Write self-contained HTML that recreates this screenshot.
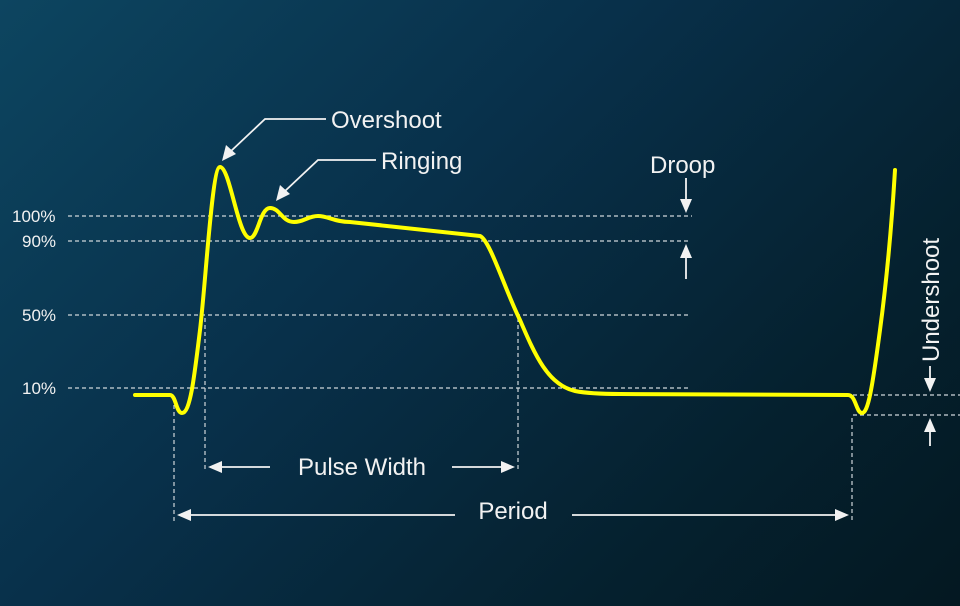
<!DOCTYPE html>
<html><head><style>
html,body{margin:0;padding:0}
body{width:960px;height:606px;overflow:hidden;background:linear-gradient(135deg,#0d4560 0%,#08304a 40%,#05212f 75%,#041821 100%);}
svg{display:block}
text{font-family:"Liberation Sans",sans-serif;fill:#f2f2f2}
</style></head><body>
<svg width="960" height="606" viewBox="0 0 960 606">
<defs>
<marker id="ah" viewBox="0 0 10 10" refX="9" refY="5" markerWidth="5" markerHeight="5" orient="auto-start-reverse" markerUnits="userSpaceOnUse" style="overflow:visible">
<path d="M0,0 L10,5 L0,10 z" fill="#f2f2f2" transform="scale(2)"/>
</marker>
</defs>
<g stroke="#cfd6da" stroke-width="1.2" stroke-dasharray="4,3" fill="none">
<line x1="68" y1="216" x2="692" y2="216"/>
<line x1="68" y1="241" x2="688" y2="241"/>
<line x1="68" y1="315" x2="688" y2="315"/>
<line x1="68" y1="388" x2="688" y2="388"/>
<line x1="853" y1="395" x2="960" y2="395"/>
<line x1="853" y1="415" x2="960" y2="415"/>
<line x1="174" y1="398" x2="174" y2="522"/>
<line x1="205" y1="318" x2="205" y2="472"/>
<line x1="518" y1="318" x2="518" y2="472"/>
<line x1="852" y1="418" x2="852" y2="522"/>
</g>
<g font-size="17">
<text x="12" y="222">100%</text>
<text x="22" y="247">90%</text>
<text x="22" y="321">50%</text>
<text x="22" y="394">10%</text>
</g>
<g stroke="#f2f2f2" stroke-width="1.8" fill="#f2f2f2">
<line x1="270" y1="467" x2="220" y2="467"/><path d="M208,467 L222,461 L222,473z" stroke="none"/>
<line x1="452" y1="467" x2="503" y2="467"/><path d="M515,467 L501,461 L501,473z" stroke="none"/>
<line x1="455" y1="515" x2="189" y2="515"/><path d="M177,515 L191,509 L191,521z" stroke="none"/>
<line x1="572" y1="515" x2="837" y2="515"/><path d="M849,515 L835,509 L835,521z" stroke="none"/>
<polyline points="326,119 265,119 230,152" fill="none"/><path d="M222,161 L226,145 L236,154z" stroke="none"/>
<polyline points="376,160 318,160 284,192" fill="none"/><path d="M276,201 L280,185 L290,194z" stroke="none"/>
<line x1="686" y1="178" x2="686" y2="202"/><path d="M686,213 L680,199 L692,199z" stroke="none"/>
<line x1="686" y1="279" x2="686" y2="256"/><path d="M686,244 L680,258 L692,258z" stroke="none"/>
<line x1="930" y1="366" x2="930" y2="381"/><path d="M930,392 L924,378 L936,378z" stroke="none"/>
<line x1="930" y1="446" x2="930" y2="430"/><path d="M930,418 L924,432 L936,432z" stroke="none"/>
</g>
<g font-size="24">
<text x="331" y="128">Overshoot</text>
<text x="381" y="169">Ringing</text>
<text x="650" y="173">Droop</text>
<text x="362" y="475" text-anchor="middle">Pulse Width</text>
<text x="513" y="519" text-anchor="middle">Period</text>
<text transform="translate(939,362) rotate(-90)">Undershoot</text>
</g>
<path d="M135,395 L170,395 C176,395 176,413 182,413 C190,413 194,380 200,330 C206,280 212,167 220,167 C230,167 238,238 250,238 C258,238 260,208 270,208 C280,208 282,222 294,222 C304,222 308,216 318,216 C328,216 335,222 350,222 L480,236 C490,240 505,290 520,320 C535,355 548,385 575,391 C585,393 600,394 620,394 L848,395 C856,395 856,413 862,413 C868,413 872,390 880,330 C888,270 892,220 895,170" fill="none" stroke="#ffff00" stroke-width="4" stroke-linejoin="round" stroke-linecap="round"/>
</svg>
</body></html>
